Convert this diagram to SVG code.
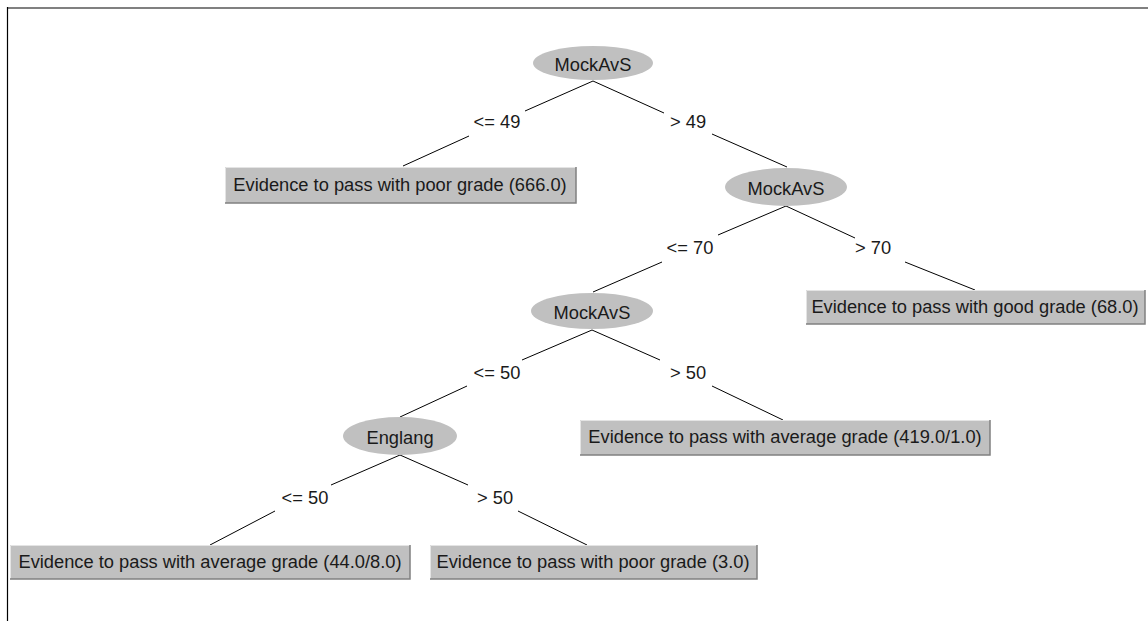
<svg xmlns="http://www.w3.org/2000/svg" width="1148" height="621" viewBox="0 0 1148 621">
<style>
.bg{fill:#ffffff}
.ell{fill:#c0c0c0;stroke:none}
.box{fill:#c0c0c0;stroke:none}
.hi{fill:none;stroke:#e4e4e4;stroke-width:1}
.sh{fill:none;stroke:#808080;stroke-width:1.5}
.t{font-family:"Liberation Sans",Arial,sans-serif;font-size:18.3px;fill:#1a1a1a;text-anchor:middle}
.edge{stroke:#000000;stroke-width:1;fill:none}
</style>
<rect class="bg" x="0" y="0" width="1148" height="621"/>
<line x1="7" y1="8" x2="1148" y2="8" stroke="#808080" stroke-width="2"/>
<line x1="7.5" y1="7" x2="7.5" y2="621" stroke="#000000" stroke-width="1.2"/>

<g id="connectors">
  <path class="edge" d="M593,81 L525,111 M469,136 L403,166"/>
  <text class="t" x="497" y="128">&lt;= 49</text>
  <path class="edge" d="M593,81 L664,113 M712,134 L787,167"/>
  <text class="t" x="688" y="128">&gt; 49</text>
  <path class="edge" d="M786,206 L718,235 M662,262 L593,292"/>
  <text class="t" x="690" y="254">&lt;= 70</text>
  <path class="edge" d="M786,206 L855,238 M905,262 L975,290"/>
  <text class="t" x="873" y="254">&gt; 70</text>
  <path class="edge" d="M592,330 L522,360 M467,386 L400,417"/>
  <text class="t" x="497" y="379">&lt;= 50</text>
  <path class="edge" d="M592,330 L660,360 M712,386 L783,420"/>
  <text class="t" x="688" y="379">&gt; 50</text>
  <path class="edge" d="M400,455 L331,485 M275,511 L210,545"/>
  <text class="t" x="305" y="504">&lt;= 50</text>
  <path class="edge" d="M400,455 L468,485 M518,511 L587,545"/>
  <text class="t" x="495" y="504">&gt; 50</text>
</g>

<g id="n1">
  <ellipse class="ell" cx="593" cy="63" rx="60" ry="17"/>
  <text class="t" x="593" y="71">MockAvS</text>
</g>
<g id="n2">
  <ellipse class="ell" cx="786" cy="187" rx="61" ry="19"/>
  <text class="t" x="786" y="195">MockAvS</text>
</g>
<g id="n3">
  <ellipse class="ell" cx="592" cy="311" rx="61" ry="18"/>
  <text class="t" x="592" y="319">MockAvS</text>
</g>
<g id="n4">
  <ellipse class="ell" cx="400" cy="436" rx="57" ry="19"/>
  <text class="t" x="400" y="444">Englang</text>
</g>

<g id="leaf1">
  <rect class="box" x="225" y="167" width="351" height="36"/>
  <path class="hi" d="M225.5,203 V167.5 H576"/>
  <path class="sh" d="M225,203 H576 V167"/>
  <text class="t" x="400" y="191">Evidence to pass with poor grade (666.0)</text>
</g>
<g id="leaf2">
  <rect class="box" x="806" y="290" width="339" height="34"/>
  <path class="hi" d="M806.5,324 V290.5 H1145"/>
  <path class="sh" d="M806,324 H1145 V290"/>
  <text class="t" x="975" y="313">Evidence to pass with good grade (68.0)</text>
</g>
<g id="leaf3">
  <rect class="box" x="580" y="420" width="410" height="35"/>
  <path class="hi" d="M580.5,455 V420.5 H990"/>
  <path class="sh" d="M580,455 H990 V420"/>
  <text class="t" x="785" y="443">Evidence to pass with average grade (419.0/1.0)</text>
</g>
<g id="leaf4">
  <rect class="box" x="10" y="545" width="400" height="34"/>
  <path class="hi" d="M10.5,579 V545.5 H410"/>
  <path class="sh" d="M10,579 H410 V545"/>
  <text class="t" x="210" y="568">Evidence to pass with average grade (44.0/8.0)</text>
</g>
<g id="leaf5">
  <rect class="box" x="430" y="545" width="327" height="34"/>
  <path class="hi" d="M430.5,579 V545.5 H757"/>
  <path class="sh" d="M430,579 H757 V545"/>
  <text class="t" x="593" y="568">Evidence to pass with poor grade (3.0)</text>
</g>
</svg>
